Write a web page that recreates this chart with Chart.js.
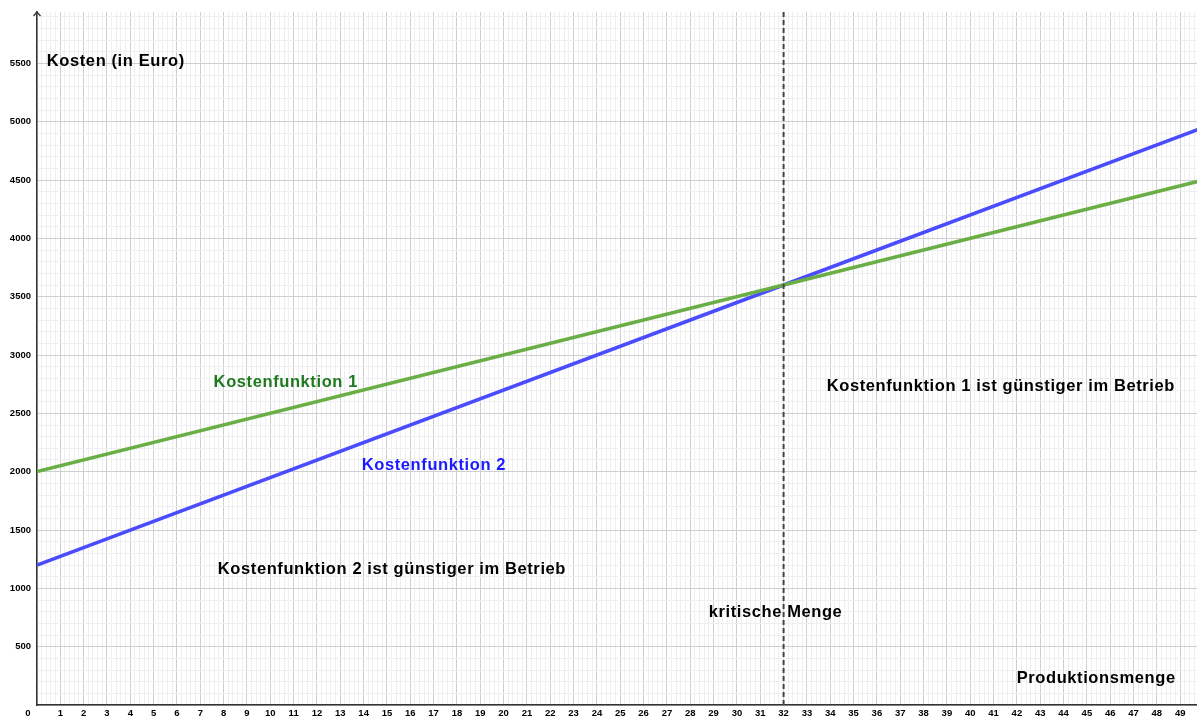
<!DOCTYPE html>
<html>
<head>
<meta charset="utf-8">
<script src="https://cdn.jsdelivr.net/npm/chart.js@4"></script>
<style>
    html, body { margin: 0; padding: 0; background: #fff; }
    #wrap { width: 1197px; height: 717px; position: relative; }
</style>
</head>
<body>
<div id="wrap"><canvas id="kostenChart"></canvas></div>
<script>
// --- Daten ---
const mengen = [0, 32, 50];
const kosten1 = [2000, 3600, 4500];   // Kostenfunktion 1
const kosten2 = [1200, 3600, 4950];   // Kostenfunktion 2
const kritischeMenge = 32;

const xTickLabels = Array.from({ length: 50 }, (_, i) => String(i));
const yTickLabels = ['500', '1000', '1500', '2000', '2500', '3000', '3500', '4000', '4500', '5000', '5500'];

// Beschriftungen im Diagramm (Datenkoordinaten)
const beschriftungen = [
    { text: 'Kosten (in Euro)', x: 0.42, y: 5512, color: '#000' },
    { text: 'Kostenfunktion 1', x: 7.57, y: 2768, color: '#1e7a1e' },
    { text: 'Kostenfunktion 2', x: 13.92, y: 2057, color: '#1a1aff' },
    { text: 'Kostenfunktion 2 ist günstiger im Betrieb', x: 7.75, y: 1165, color: '#000' },
    { text: 'Kostenfunktion 1 ist günstiger im Betrieb', x: 33.85, y: 2734, color: '#000' },
    { text: 'kritische Menge', x: 28.79, y: 797, color: '#000' },
    { text: 'Produktionsmenge', x: 41.99, y: 231, color: '#000' }
];

const toPoints = (xs, ys) => xs.map((x, i) => ({ x, y: ys[i] }));
const isWhole = (v, step) => Math.abs(v / step - Math.round(v / step)) < 1e-6;

// Achsenbeschriftung, Pfeil und Texte
const overlayPlugin = {
    id: 'overlay',
    afterDraw(chart) {
        const { ctx, chartArea, scales: { x, y } } = chart;
        ctx.save();

        // Pfeil an der y-Achse
        const x0 = x.getPixelForValue(0);
        ctx.strokeStyle = '#333';
        ctx.lineWidth = 1.2;
        ctx.beginPath();
        ctx.moveTo(x0 - 3.5, chartArea.top + 4);
        ctx.lineTo(x0, chartArea.top);
        ctx.lineTo(x0 + 3.5, chartArea.top + 4);
        ctx.stroke();

        // Tick-Beschriftungen
        ctx.fillStyle = '#000';
        ctx.font = 'bold 9.5px "Liberation Sans", Arial, sans-serif';
        ctx.textBaseline = 'middle';
        ctx.textAlign = 'center';
        const y0 = y.getPixelForValue(0);
        xTickLabels.forEach(lbl => {
            const v = Number(lbl);
            const px = v === 0 ? x0 - 9 : x.getPixelForValue(v);
            ctx.fillText(lbl, px, y0 + 8);
        });
        ctx.textAlign = 'right';
        yTickLabels.forEach(lbl => {
            ctx.fillText(lbl, x0 - 6, y.getPixelForValue(Number(lbl)));
        });

        // Texte
        ctx.font = 'bold 16.5px "Liberation Sans", Arial, sans-serif';
        ctx.letterSpacing = '0.6px';
        ctx.textAlign = 'left';
        beschriftungen.forEach(b => {
            ctx.fillStyle = b.color;
            ctx.fillText(b.text, x.getPixelForValue(b.x), y.getPixelForValue(b.y));
        });
        ctx.restore();
    }
};

new Chart(document.getElementById('kostenChart'), {
    type: 'line',
    data: {
        datasets: [
            {
                label: 'kritische Menge',
                data: [{ x: kritischeMenge, y: 0 }, { x: kritischeMenge, y: 7000 }],
                borderColor: '#444',
                borderWidth: 2,
                borderDash: [5, 3],
                pointRadius: 0
            },
            {
                label: 'Kostenfunktion 1',
                data: toPoints(mengen, kosten1),
                borderColor: '#6aaf45',
                borderWidth: 3.5,
                pointRadius: 0
            },
            {
                label: 'Kostenfunktion 2',
                data: toPoints(mengen, kosten2),
                borderColor: '#4b4bff',
                borderWidth: 3.5,
                pointRadius: 0
            }
        ]
    },
    options: {
        responsive: true,
        maintainAspectRatio: false,
        animation: false,
        layout: { padding: { left: 37, top: 12, right: 0, bottom: 12 } },
        plugins: { legend: { display: false }, tooltip: { enabled: false } },
        scales: {
            x: {
                type: 'linear',
                min: 0,
                max: 49.72,
                ticks: { display: false, stepSize: 0.2, includeBounds: false },
                grid: {
                    drawTicks: false,
                    color: c => isWhole(c.tick.value, 1) ? '#cfcfcf' : '#efefef',
                    lineWidth: 1
                },
                border: { display: true, color: '#333', width: 1.5 }
            },
            y: {
                type: 'linear',
                min: 0,
                max: 5940,
                ticks: { display: false, stepSize: 100, includeBounds: false },
                grid: {
                    drawTicks: false,
                    color: c => isWhole(c.tick.value, 500) ? '#cfcfcf' : '#efefef',
                    lineWidth: 1
                },
                border: { display: true, color: '#333', width: 1.5 }
            }
        }
    },
    plugins: [overlayPlugin]
});
</script>
</body>
</html>
